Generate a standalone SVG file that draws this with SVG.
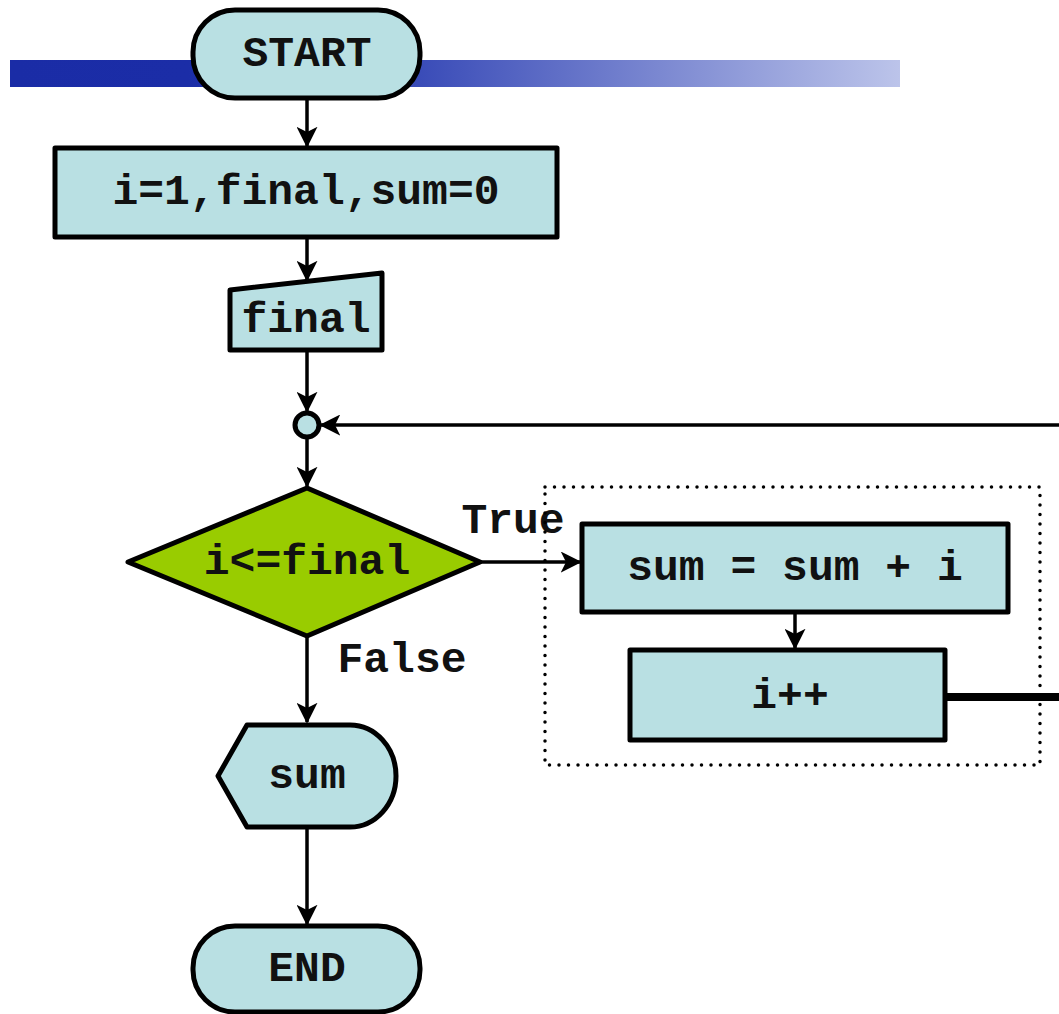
<svg xmlns="http://www.w3.org/2000/svg" width="1059" height="1014" viewBox="0 0 1059 1014">
<style>
.n{fill:#b9e0e3;stroke:#000;stroke-width:5;stroke-linejoin:round}
.t{font-family:"Liberation Mono","Courier New",monospace;font-weight:bold;font-size:43px;fill:#111;text-anchor:middle;dominant-baseline:central}
.c{stroke:#000;stroke-width:3.5;fill:none}
</style>
<defs>
<linearGradient id="bar" x1="10" y1="0" x2="900" y2="0" gradientUnits="userSpaceOnUse">
<stop offset="0" stop-color="#1a2ca6"/>
<stop offset="0.2" stop-color="#1b2da7"/>
<stop offset="0.46" stop-color="#3a4cb8"/>
<stop offset="1" stop-color="#bcc4ea"/>
</linearGradient>
<marker id="ah" viewBox="0 0 12 12" refX="11" refY="6" markerWidth="6" markerHeight="6" markerUnits="strokeWidth" orient="auto">
<path d="M0,0 L12,6 L0,12 L3,6 z" fill="#000"/>
</marker>
</defs>
<rect x="10" y="60" width="890" height="27" fill="url(#bar)"/>
<g id="connectors">
<line class="c" x1="307" y1="98" x2="307" y2="146" marker-end="url(#ah)"/>
<line class="c" x1="307" y1="237" x2="307" y2="280" marker-end="url(#ah)"/>
<line class="c" x1="307" y1="350" x2="307" y2="411" marker-end="url(#ah)"/>
<line class="c" x1="1059" y1="425" x2="321" y2="425" marker-end="url(#ah)"/>
<line class="c" x1="307" y1="437" x2="307" y2="486" marker-end="url(#ah)"/>
<line class="c" x1="480" y1="562" x2="580" y2="562" marker-end="url(#ah)"/>
<line class="c" x1="795" y1="612" x2="795" y2="648" marker-end="url(#ah)"/>
<line x1="945" y1="697" x2="1059" y2="697" stroke="#000" stroke-width="8"/>
<line class="c" x1="307" y1="636" x2="307" y2="722" marker-end="url(#ah)"/>
<line class="c" x1="307" y1="826" x2="307" y2="924" marker-end="url(#ah)"/>
<text class="t" x="513" y="521">True</text>
<text class="t" x="402" y="660">False</text>
</g>
<rect id="loop-body" x="545" y="487" width="495" height="278" fill="none" stroke="#000" stroke-width="3.5" stroke-dasharray="0 9.5" stroke-linecap="round"/>
<g id="start">
<rect class="n" x="193" y="10" width="227" height="88" rx="42"/>
<text class="t" x="307" y="54">START</text>
</g>
<g id="init">
<rect class="n" x="55" y="148" width="502" height="89"/>
<text class="t" x="306" y="192">i=1,final,sum=0</text>
</g>
<g id="input">
<polygon class="n" points="230,290 382,273 382,350 230,350"/>
<text class="t" x="306" y="320">final</text>
</g>
<g id="junction">
<circle class="n" cx="307" cy="425" r="12"/>
</g>
<g id="cond">
<polygon class="n" style="fill:#99cc00" points="307,488 480,562 307,636 128,562"/>
<text class="t" x="307" y="562">i&lt;=final</text>
</g>
<g id="add">
<rect class="n" x="582" y="524" width="426" height="88"/>
<text class="t" x="795" y="568">sum = sum + i</text>
</g>
<g id="inc">
<rect class="n" x="630" y="650" width="315" height="90"/>
<text class="t" x="790" y="696">i++</text>
</g>
<g id="output">
<path class="n" d="M218,776 L247,725 L350,725 A46,51 0 0 1 350,827 L247,827 Z"/>
<text class="t" x="307" y="776">sum</text>
</g>
<g id="end">
<rect class="n" x="193" y="926" width="227" height="86" rx="42"/>
<text class="t" x="307" y="969">END</text>
</g>
</svg>
